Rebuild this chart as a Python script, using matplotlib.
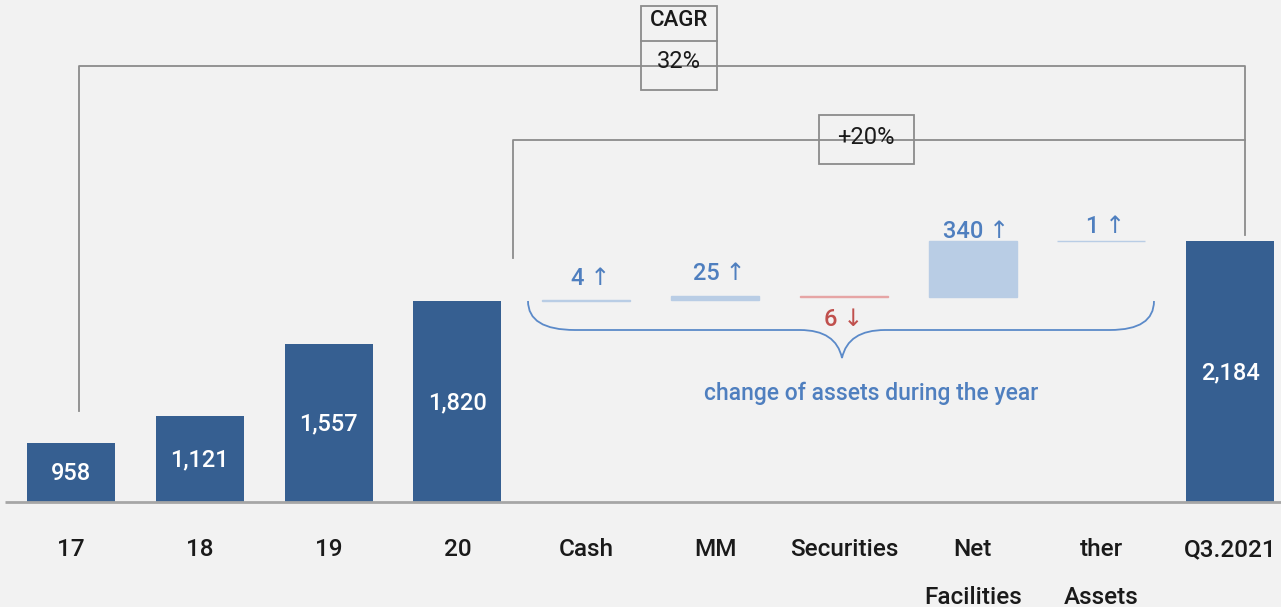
import matplotlib
matplotlib.use("Agg")
import matplotlib.pyplot as plt
from matplotlib.path import Path
from matplotlib.patches import PathPatch, Rectangle
from matplotlib.transforms import Affine2D

# ---- data ----
categories = ['17', '18', '19', '20', 'Cash', 'MM', 'Securities',
              'Net\nFacilities', 'ther\nAssets', 'Q3.2021']
year_totals = [958, 1121, 1557, 1820]
changes = [4, 25, -6, 340, 1]
final_total = 2184
cagr_label = ['CAGR', '32%']
growth_label = '+20%'
brace_text = 'change of assets during the year'

# ---- style ----
BG = '#f2f2f2'
DARK = '#365f91'
LIGHT = '#b9cde5'
NEG = '#e6a5a5'
BLUE_TXT = '#4f7fbf'
RED_TXT = '#c0504d'
GRAY = '#8c8c8c'
FONT = ['Roboto', 'DejaVu Sans']
plt.rcParams['font.family'] = FONT

W, H = 1281, 607
fig = plt.figure(figsize=(W / 100, H / 100), dpi=100, facecolor=BG)
ax = fig.add_axes([0, 105 / H, 1, 502 / H])
ax.set_facecolor(BG)
base = 600
ax.set_ylim(base, base + 502 * 6.07)
ax.set_xlim(-0.551, 9.394)
ax.axis('off')

# pixel transform (origin top-left)
pxT = Affine2D().scale(1 / W, -1 / H).translate(0, 1) + fig.transFigure

bw = 0.683
# total bars
tot_x = list(range(len(year_totals))) + [len(categories) - 1]
tot_v = year_totals + [final_total]
for x, v in zip(tot_x, tot_v):
    ax.bar(x, v - base, bottom=base, width=bw, color=DARK, zorder=3)
    ax.annotate(f'{v:,}', (x, (v + base) / 2), xytext=(0, -1),
                textcoords='offset pixels', color='white', ha='center',
                va='center', fontsize=17, weight='medium', zorder=4)

# change bars
offsets = [22, 23, -22, 10, 15]
run = year_totals[-1]
for i, c in enumerate(changes):
    x = len(year_totals) + i
    lo = run if c > 0 else run + c
    col = LIGHT if c > 0 else NEG
    ax.bar(x, abs(c), bottom=lo, width=bw, color=col, edgecolor=col,
           linewidth=1, zorder=3)
    top = run + c if c > 0 else run
    txt = f'{abs(c)} ↑' if c > 0 else f'{abs(c)} ↓'
    if c > 0:
        ax.annotate(txt, (x + 0.03, top), xytext=(0, offsets[i]),
                    textcoords='offset pixels', ha='center', va='center',
                    color=BLUE_TXT, fontsize=17, weight='medium', zorder=5)
    else:
        ax.annotate(txt, (x, run + c), xytext=(0, offsets[i]),
                    textcoords='offset pixels', ha='center', va='center',
                    color=RED_TXT, fontsize=17, weight='medium', zorder=5)
    run += c

# baseline
ax.plot([-0.51, 9.394], [base, base], color='#a6a6a6', lw=2,
        zorder=4, clip_on=False, solid_capstyle='butt')

# category labels
for i, cat in enumerate(categories):
    for j, line in enumerate(cat.split('\n')):
        ax.annotate(line, (i, base), xytext=(0, -48 - 48 * j),
                    textcoords='offset pixels', ha='center', va='center',
                    fontsize=17.5, weight='medium', color='#1a1a1a',
                    annotation_clip=False)

# connectors (pixel coords)
def pline(xs, ys):
    fig.add_artist(plt.Line2D(xs, ys, transform=pxT, color=GRAY, lw=1.3))

pline([79, 79, 1245, 1245], [411, 66, 66, 235])
pline([513, 513, 1245], [258, 140, 140])

# CAGR box
fig.add_artist(Rectangle((641, 6), 76, 84, transform=pxT, facecolor=BG,
                         edgecolor=GRAY, lw=1.3))
pline([641, 717], [41, 41])
fig.text(679 / W, 1 - 21 / H, cagr_label[0], ha='center', va='center',
         fontsize=16, weight='medium', color='#1a1a1a')
fig.text(679 / W, 1 - 62 / H, cagr_label[1], ha='center', va='center',
         fontsize=17, color='#1a1a1a')

# +20% box
fig.add_artist(Rectangle((819, 115), 95, 49, transform=pxT, facecolor=BG,
                         edgecolor=GRAY, lw=1.3))
fig.text(866 / W, 1 - 138 / H, growth_label, ha='center', va='center',
         fontsize=17, color='#1a1a1a')

# brace
verts = [(528, 301), (528, 330), (575, 330),
         (800, 330),
         (836, 330), (842, 358),
         (848, 330), (885, 330),
         (1110, 330),
         (1154, 330), (1154, 301)]
codes = [Path.MOVETO, Path.CURVE3, Path.CURVE3,
         Path.LINETO,
         Path.CURVE3, Path.CURVE3,
         Path.CURVE3, Path.CURVE3,
         Path.LINETO,
         Path.CURVE3, Path.CURVE3]
fig.add_artist(PathPatch(Path(verts, codes), transform=pxT, fill=False,
                         edgecolor='#5b8ac9', lw=1.3))
fig.text(871 / W, 1 - 393 / H, brace_text, ha='center', va='center',
         fontsize=16.5, weight='medium', color=BLUE_TXT)

fig.savefig('out.png', dpi=100, facecolor=BG)
